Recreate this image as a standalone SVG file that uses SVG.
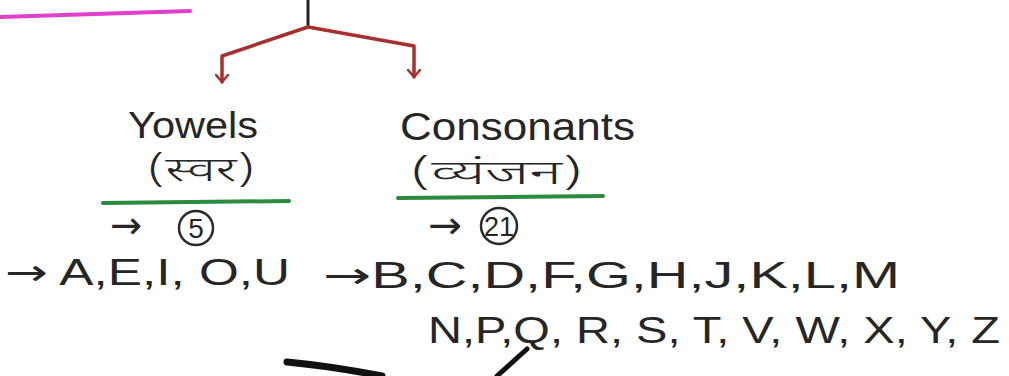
<svg xmlns="http://www.w3.org/2000/svg" width="1009" height="376" viewBox="0 0 1009 376">
<style>
.t{font-family:"Liberation Sans","Noto Sans",sans-serif;fill:#262626}
.ar{font-family:"DejaVu Sans","Liberation Sans",sans-serif}
.hi{font-family:"Noto Sans Devanagari","Lohit Devanagari","Noto Sans","Liberation Sans",sans-serif;fill:#262626;font-weight:300}
.red{stroke:#a8302c;stroke-width:3.5;fill:none;stroke-linejoin:round;stroke-linecap:round}
.grn{stroke:#2b8c3f;stroke-width:4;stroke-linecap:round}
.circ{fill:none;stroke:#2a2a2a;stroke-width:2.5}
.ink{stroke:#111;fill:none;stroke-linecap:round}
</style>
<defs>
<marker id="ah" viewBox="0 0 14 14" refX="12" refY="7" markerWidth="14" markerHeight="14" markerUnits="userSpaceOnUse" orient="auto">
<path d="M5,1 L12,7 L5,13" fill="none" stroke="#a8302c" stroke-width="2.5" stroke-linecap="round" stroke-linejoin="round"/>
</marker>
</defs>
<rect width="1009" height="376" fill="#ffffff"/>
<line x1="0" y1="17" x2="190" y2="11" stroke="#e040cc" stroke-width="4" stroke-linecap="round"/>
<g id="connectors">
<line x1="308" y1="0" x2="308" y2="27" stroke="#222" stroke-width="3"/>
<polyline class="red" points="308,27 222,56 222,82" marker-end="url(#ah)"/>
<polyline class="red" points="308,27 414,46 414,77" marker-end="url(#ah)"/>
</g>
<g id="vowels">
<text class="t" x="128" y="138" font-size="36" textLength="130" lengthAdjust="spacingAndGlyphs">Yowels</text>
<text class="hi" x="147" y="181" font-size="34" textLength="108" lengthAdjust="spacingAndGlyphs">(स्वर)</text>
<line class="grn" x1="103" y1="203" x2="289" y2="201"/>
<text class="t ar" x="110" y="238" font-size="38" textLength="32" lengthAdjust="spacingAndGlyphs">→</text>
<circle class="circ" cx="196" cy="228" r="17"/>
<text class="t" x="196" y="238" font-size="28" text-anchor="middle">5</text>
<text class="t" x="5" y="285" font-size="36" textLength="285" lengthAdjust="spacingAndGlyphs"><tspan class="ar">→</tspan> A,E,I, O,U</text>
</g>
<g id="consonants">
<text class="t" x="400" y="140" font-size="38" textLength="235" lengthAdjust="spacingAndGlyphs">Consonants</text>
<text class="hi" x="410" y="184" font-size="34" textLength="173" lengthAdjust="spacingAndGlyphs">(व्यंजन)</text>
<line class="grn" x1="398" y1="198" x2="603" y2="196"/>
<text class="t ar" x="428" y="238" font-size="38" textLength="34" lengthAdjust="spacingAndGlyphs">→</text>
<circle class="circ" cx="499" cy="226" r="18"/>
<text class="t" x="499" y="236" font-size="27" text-anchor="middle">21</text>
<text class="t" x="323" y="288" font-size="36" textLength="577" lengthAdjust="spacingAndGlyphs"><tspan class="ar">→</tspan>B,C,D,F,G,H,J,K,L,M</text>
<text class="t" x="428" y="343" font-size="36" textLength="572" lengthAdjust="spacingAndGlyphs">N,P,Q, R, S, T, V, W, X, Y, Z</text>
</g>
<g id="fragments">
<path class="ink" d="M287,362 Q330,366 382,376" stroke-width="7"/>
<path class="ink" d="M497,376 L527,349" stroke-width="5"/>
</g>
</svg>
